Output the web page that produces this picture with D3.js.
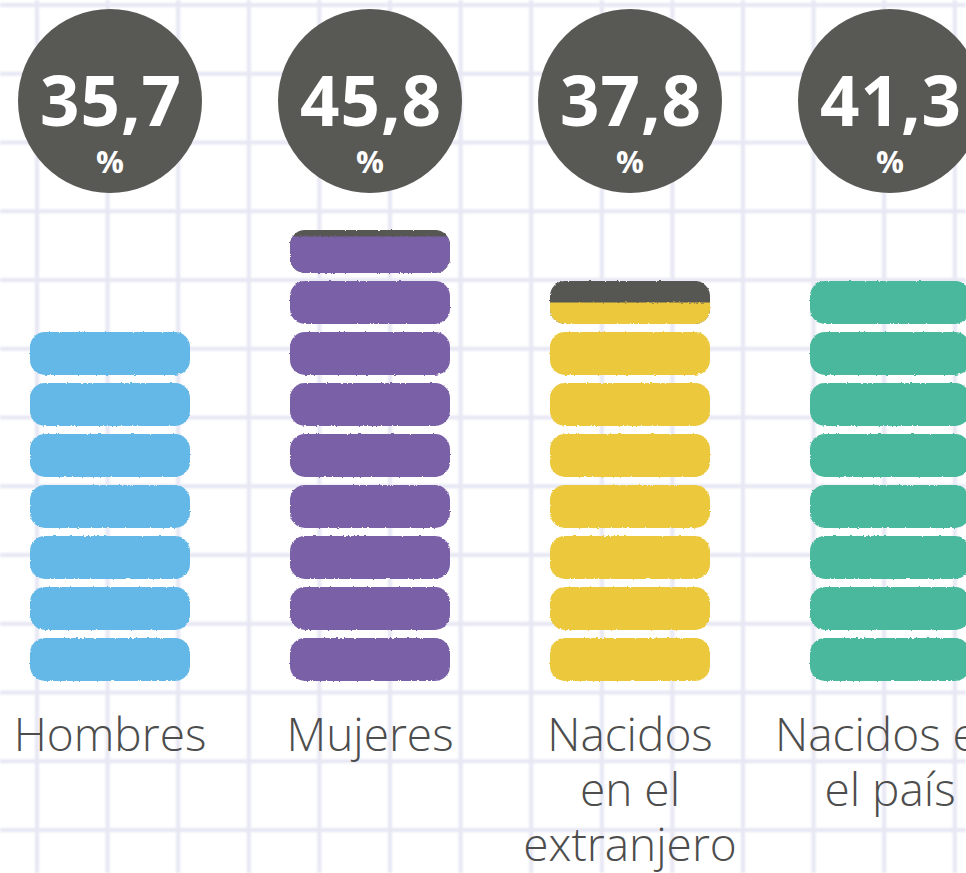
<!DOCTYPE html>
<html>
<head>
<meta charset="utf-8">
<script src="https://cdn.jsdelivr.net/npm/d3@7"></script>
<style>
  body { margin: 0; background: #fff; overflow: hidden; }
  svg { display: block; }
</style>
</head>
<body>
<div id="box-div"></div>
<script>
// datos
const categories = ['Hombres', 'Mujeres', 'Nacidos en el extranjero', 'Nacidos en el país']
const labelLines = [['Hombres'], ['Mujeres'], ['Nacidos', 'en el', 'extranjero'], ['Nacidos en', 'el país']]
const values = [35.7, 45.8, 37.8, 41.3]
// altura de cada columna en "pastillas"
const pills = [7, 8.85, 7.5, 8]
const colors = ['#63b8e7', '#7a60a7', '#ecc83e', '#49b89c']

let dms = {
    width: 966,
    height: 873
}

const box = d3.select('#box-div').append('svg')
    .attr('width', dms.width)
    .attr('height', dms.height)

// filtro para el borde de brocha
const defs = box.append('defs')
const rough = defs.append('filter')
    .attr('id', 'rough')
    .attr('x', '-5%').attr('y', '-20%')
    .attr('width', '110%').attr('height', '140%')
rough.append('feTurbulence')
    .attr('type', 'fractalNoise')
    .attr('baseFrequency', '0.35 0.6')
    .attr('numOctaves', 2)
    .attr('seed', 3)
    .attr('result', 'noise')
rough.append('feDisplacementMap')
    .attr('in', 'SourceGraphic')
    .attr('in2', 'noise')
    .attr('scale', 2.5)
    .attr('xChannelSelector', 'R')
    .attr('yChannelSelector', 'G')

const blur = defs.append('filter').attr('id', 'soft')
blur.append('feGaussianBlur').attr('stdDeviation', 1.1)

// cuadrícula de fondo
const grid = box.append('g').attr('id', 'grid').attr('filter', 'url(#soft)')
const gx = d3.range(37, dms.width, 70.6)
const gy = d3.range(5, dms.height, 68.75)
grid.selectAll('.v')
    .data(gx)
    .join('line')
    .attr('class', 'v')
    .attr('x1', d => d).attr('x2', d => d)
    .attr('y1', 0).attr('y2', dms.height)
    .attr('stroke', '#e7e7f4')
    .attr('stroke-width', 4)
grid.selectAll('.h')
    .data(gy)
    .join('line')
    .attr('class', 'h')
    .attr('x1', 0).attr('x2', dms.width)
    .attr('y1', d => d).attr('y2', d => d)
    .attr('stroke', '#e7e7f4')
    .attr('stroke-width', 4)

// escalas
const xScale = d3.scaleBand()
    .domain(categories)
    .range([-20, 1020])
    .padding(0)

const yScale = d3.scaleLinear()
    .domain([0, 9])
    .range([681, 681 - 9 * 51])

const pillW = 160
const pillH = 43
const fmt = d3.formatLocale({ decimal: ',', thousands: '.', grouping: [3], currency: ['', '€'] }).format('.1f')

const cols = box.selectAll('.col')
    .data(categories)
    .join('g')
    .attr('class', 'col')
    .attr('transform', d => `translate(${xScale(d) + xScale.bandwidth() / 2}, 0)`)

// pastillas
cols.each(function (cat, i) {
    const g = d3.select(this)
    const n = pills[i]
    const units = d3.range(Math.ceil(n))
    const unitG = g.selectAll('.pill')
        .data(units)
        .join('g')
        .attr('class', 'pill')
        .attr('filter', 'url(#rough)')

    unitG.each(function (u) {
        const p = d3.select(this)
        const top = yScale(u + 1) + (yScale(u) - yScale(u + 1) - pillH)
        const bottom = top + pillH
        const frac = Math.min(1, n - u)
        const clipId = `clip-${i}-${u}`
        defs.append('clipPath').attr('id', clipId)
            .append('rect')
            .attr('x', -pillW / 2).attr('y', top)
            .attr('width', pillW).attr('height', pillH)
            .attr('rx', 15)
        const inner = p.append('g').attr('clip-path', `url(#${clipId})`)
        if (frac < 1) {
            inner.append('rect')
                .attr('x', -pillW / 2).attr('y', top)
                .attr('width', pillW).attr('height', pillH)
                .attr('fill', '#575753')
        }
        inner.append('rect')
            .attr('x', -pillW / 2 - 2)
            .attr('y', bottom - pillH * frac)
            .attr('width', pillW + 4)
            .attr('height', pillH * frac)
            .attr('fill', colors[i])
    })
})

// círculos con el porcentaje
cols.append('circle')
    .attr('cx', 0)
    .attr('cy', 101)
    .attr('r', 92)
    .attr('fill', '#585854')

cols.append('text')
    .attr('x', 1)
    .attr('y', 126)
    .attr('text-anchor', 'middle')
    .attr('fill', '#fff')
    .style('font-family', '"Open Sans", sans-serif')
    .style('font-weight', 700)
    .style('font-size', '69px')
    .style('letter-spacing', '1px')
    .text((d, i) => fmt(values[i]))

cols.append('text')
    .attr('x', 0)
    .attr('y', 173)
    .attr('text-anchor', 'middle')
    .attr('fill', '#fff')
    .style('font-family', '"Open Sans", sans-serif')
    .style('font-weight', 700)
    .style('font-size', '31px')
    .text('%')

// etiquetas
cols.append('text')
    .attr('text-anchor', 'middle')
    .attr('fill', '#4d4d4d')
    .style('font-family', '"Open Sans", sans-serif')
    .style('font-weight', 300)
    .style('font-size', '46px')
    .selectAll('tspan')
    .data((d, i) => labelLines[i])
    .join('tspan')
    .attr('x', 0)
    .attr('y', (d, j) => 751 + j * 55)
    .text(d => d)
</script>
</body>
</html>
